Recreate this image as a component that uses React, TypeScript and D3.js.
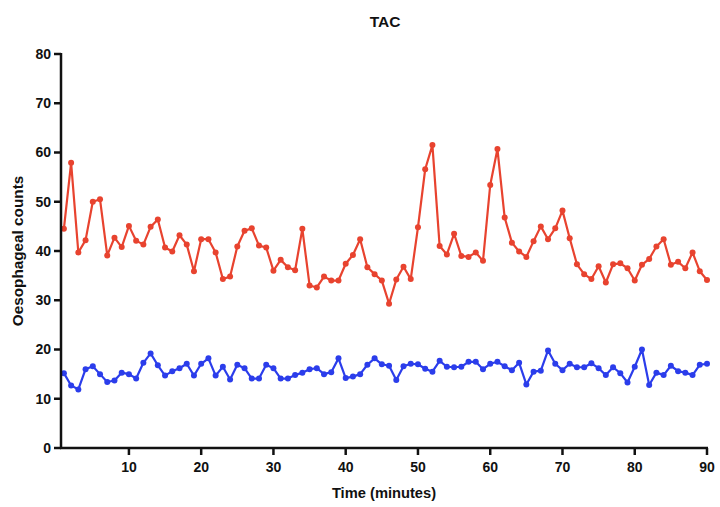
import React from "react";
import * as d3 from "d3";

// Minutes 1..90
const minutes: number[] = Array.from({ length: 90 }, (_, i) => i + 1);

// Oesophageal counts per minute (upper trace)
const upperCounts: number[] = [
  44.5, 57.9, 39.7, 42.2, 50.0, 50.5, 39.1, 42.7, 40.8, 45.1,
  42.1, 41.3, 44.9, 46.4, 40.7, 39.9, 43.2, 41.3, 35.9, 42.4,
  42.4, 39.7, 34.3, 34.8, 40.9, 44.1, 44.6, 41.1, 40.7, 36.0,
  38.2, 36.7, 36.1, 44.5, 33.0, 32.6, 34.8, 34.0, 34.0, 37.4,
  39.2, 42.4, 36.7, 35.3, 34.0, 29.3, 34.2, 36.8, 34.3, 44.8,
  56.6, 61.5, 41.0, 39.3, 43.5, 39.0, 38.8, 39.7, 38.0, 53.4,
  60.7, 46.8, 41.7, 39.9, 38.8, 42.0, 45.0, 42.4, 44.6, 48.2,
  42.6, 37.3, 35.3, 34.3, 36.9, 33.6, 37.3, 37.5, 36.5, 34.0,
  37.2, 38.4, 40.9, 42.4, 37.2, 37.8, 36.5, 39.7, 35.9, 34.1,
];

// Oesophageal counts per minute (lower trace)
const lowerCounts: number[] = [
  15.2, 12.7, 11.9, 16.0, 16.6, 15.0, 13.4, 13.7, 15.3, 15.0,
  14.1, 17.3, 19.2, 16.8, 14.7, 15.6, 16.2, 17.1, 14.7, 17.1,
  18.2, 14.7, 16.5, 13.9, 16.9, 16.2, 14.1, 14.1, 16.9, 16.2,
  14.1, 14.1, 14.8, 15.3, 16.0, 16.2, 15.0, 15.4, 18.2, 14.2,
  14.5, 15.0, 16.9, 18.2, 17.0, 16.7, 13.8, 16.6, 17.1, 17.0,
  16.1, 15.5, 17.7, 16.5, 16.4, 16.5, 17.5, 17.5, 16.0, 17.1,
  17.5, 16.6, 15.8, 17.3, 12.9, 15.5, 15.7, 19.8, 17.1, 15.8,
  17.1, 16.4, 16.4, 17.2, 16.2, 14.8, 16.4, 15.2, 13.3, 16.5,
  20.0, 12.8, 15.3, 14.8, 16.7, 15.6, 15.3, 14.8, 16.9, 17.1,
];

const xTicks: number[] = [10, 20, 30, 40, 50, 60, 70, 80, 90];
const yTicks: number[] = [0, 10, 20, 30, 40, 50, 60, 70, 80];

const WIDTH = 720;
const HEIGHT = 507;
const FONT = "'Liberation Sans', Arial, Helvetica, sans-serif";

const RED = "#E8432F";
const BLUE = "#2B3DEB";

export default function App() {
  const x = d3.scaleLinear().domain([0.6, 90]).range([61, 707]);
  const y = d3.scaleLinear().domain([0, 80]).range([448, 54]);

  const line = d3
    .line<number>()
    .x((_, i) => x(minutes[i]))
    .y((d) => y(d));

  const series = [
    { values: upperCounts, color: RED },
    { values: lowerCounts, color: BLUE },
  ];

  const [x0, x1] = x.range();
  const [y0, y1] = y.range();

  return (
    <svg
      width={WIDTH}
      height={HEIGHT}
      style={{ position: "absolute", left: 0, top: 0, background: "#fff" }}
      fontFamily={FONT}
    >
      <text
        x={385}
        y={27}
        textAnchor="middle"
        fontSize={15.5}
        fontWeight="bold"
        fill="#111"
      >
        TAC
      </text>

      {series.map((s, si) => (
        <g key={si}>
          <path
            d={line(s.values) || ""}
            fill="none"
            stroke={s.color}
            strokeWidth={2.2}
            strokeLinejoin="round"
          />
          {s.values.map((v, i) => (
            <circle key={i} cx={x(minutes[i])} cy={y(v)} r={3} fill={s.color} />
          ))}
        </g>
      ))}

      {/* Y axis */}
      <line x1={x0} x2={x0} y1={y1 - 1} y2={y0 + 1} stroke="#111" strokeWidth={2.5} />
      {yTicks.map((t) => (
        <g key={t}>
          <line x1={x0 - 7} x2={x0} y1={y(t)} y2={y(t)} stroke="#111" strokeWidth={2.5} />
          <text
            x={x0 - 10}
            y={y(t)}
            dy="0.35em"
            textAnchor="end"
            fontSize={14}
            fontWeight="bold"
            fill="#111"
          >
            {t}
          </text>
        </g>
      ))}

      {/* X axis */}
      <line x1={x0 - 1} x2={x1 + 1} y1={y0} y2={y0} stroke="#111" strokeWidth={2.5} />
      {xTicks.map((t) => (
        <g key={t}>
          <line x1={x(t)} x2={x(t)} y1={y0} y2={y0 + 7} stroke="#111" strokeWidth={2.5} />
          <text
            x={x(t)}
            y={y0 + 24}
            textAnchor="middle"
            fontSize={14}
            fontWeight="bold"
            fill="#111"
          >
            {t}
          </text>
        </g>
      ))}

      <text
        x={(x0 + x1) / 2}
        y={498}
        textAnchor="middle"
        fontSize={14.7}
        fontWeight="bold"
        fill="#111"
      >
        Time (minutes)
      </text>
      <text
        transform={`translate(23, ${(y0 + y1) / 2}) rotate(-90)`}
        textAnchor="middle"
        fontSize={15.3}
        fontWeight="bold"
        fill="#111"
      >
        Oesophageal counts
      </text>
    </svg>
  );
}
